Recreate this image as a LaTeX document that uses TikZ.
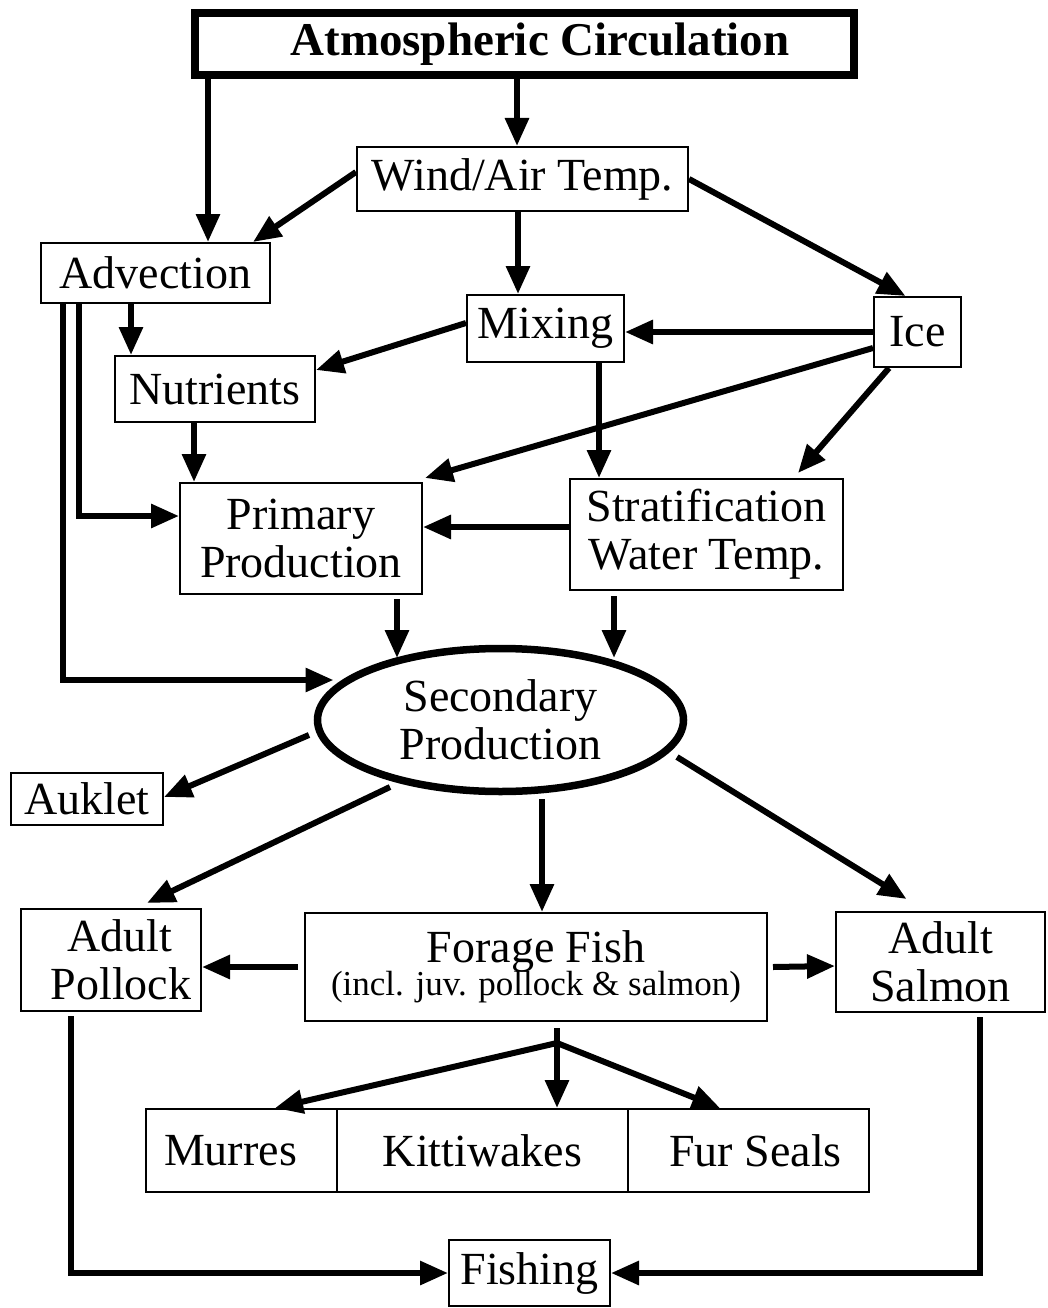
\documentclass[tikz,border=0pt]{standalone}
\usepackage{fontspec}
\setmainfont{Liberation Serif}
\usetikzlibrary{arrows.meta,shapes.geometric,calc}
\begin{document}
\begin{tikzpicture}[x=1pt,y=-1pt,
  box/.style={draw,line width=2pt,rectangle,inner sep=0pt,font=\fontsize{46}{48}\selectfont,align=center},
  arr/.style={line width=6pt,-{Triangle[length=28pt,width=23pt]}},
]
\useasboundingbox (0,0) rectangle (1048,1308);
% nodes
\node[box,minimum width=659pt,minimum height=62pt,line width=8pt,font=\fontsize{47}{50}\selectfont\bfseries] (atm) at (524.5,44) {\hspace*{31pt}Atmospheric Circulation};
\node[box,minimum width=331pt,minimum height=64pt] (wind) at (522.5,179) {Wind/Air Temp.};
\node[box,minimum width=229pt,minimum height=60pt] (adv) at (155.5,273) {Advection};
\node[box,minimum width=200pt,minimum height=66pt] (nut) at (215,389) {Nutrients};
\node[box,minimum width=242pt,minimum height=111pt] (prim) at (301,538.5) {Primary\\Production};
\node[box,minimum width=157pt,minimum height=67pt] (mix) at (545.5,328.5) {Mixing};
\node[box,minimum width=87pt,minimum height=70pt] (ice) at (917.5,332) {Ice};
\node[box,minimum width=273pt,minimum height=111pt] (strat) at (706.5,534.5) {Stratification\\Water Temp.};
\node[ellipse,draw,line width=7.5pt,minimum width=366pt,minimum height=143pt,inner sep=0pt,font=\fontsize{46}{48}\selectfont,align=center] (sec) at (500.5,720) {Secondary\\Production};
\node[box,minimum width=152pt,minimum height=52pt] (auk) at (87,799) {Auklet};
\node[box,minimum width=180pt,minimum height=102pt] (pol) at (111,960) {\hspace*{18pt}Adult\\\hspace*{20pt}Pollock};
\node[box,minimum width=462pt,minimum height=108pt] (fish) at (536,967) {Forage Fish\\[-15pt]{\fontsize{35}{36}\selectfont (incl. juv. pollock \& salmon)}};
\node[box,minimum width=209pt,minimum height=100pt] (sal) at (940.5,962) {Adult\\Salmon};
\node[box,minimum width=191pt,minimum height=83pt] (mur) at (241.5,1150.5) {\hspace*{-22pt}Murres};
\node[box,minimum width=291pt,minimum height=83pt] (kit) at (482.5,1150.5) {Kittiwakes};
\node[box,minimum width=241pt,minimum height=83pt] (fur) at (748.5,1150.5) {\hspace*{14pt}Fur Seals};
\node[box,minimum width=161pt,minimum height=66pt] (fsh) at (529.5,1273) {Fishing};
\coordinate (br) at ([xshift=21pt,yshift=-21pt]fish.south);
% connectors
\draw[arr] ([xshift=-7.5pt]atm.south) -- ([xshift=-7.5pt]atm.south |- wind.north);
\draw[arr] ([xshift=17pt]atm.south west) -- ([xshift=17pt]atm.south west |- adv.north);
\draw[arr] ([yshift=7pt]wind.west) -- ([xshift=-18pt]adv.north east);
\draw[arr] ([xshift=-4.5pt]wind.south) -- ([xshift=-4.5pt]wind.south |- mix.north);
\draw[arr] (wind.east) -- ([xshift=-12pt]ice.north);
\draw[arr] (ice.west) -- (ice.west -| mix.east);
\draw[arr] ([yshift=5.5pt]mix.west) -- ([yshift=19pt]nut.east);
\draw[arr] ([xshift=-24.5pt]adv.south) -- ([xshift=-24.5pt]adv.south |- nut.north);
\draw[arr] ([xshift=39pt]adv.south west) |- ([yshift=22.5pt]prim.west);
\draw[arr] ([xshift=23pt]adv.south west) |- ([xshift=-167pt,yshift=40pt]sec.center);
\draw[arr] ([xshift=-21pt]nut.south) -- ([xshift=-21pt]nut.south |- prim.north);
\draw[arr] ([yshift=-16pt]ice.west) -- ([xshift=2pt,yshift=4pt]prim.north east);
\draw[arr] ([xshift=-28.5pt]ice.south) -- ([xshift=91.5pt,yshift=5pt]strat.north);
\draw[arr] ([xshift=53.5pt]mix.south) -- ([xshift=53.5pt]mix.south |- strat.north);
\draw[arr] ([yshift=7.5pt]strat.west) -- ([yshift=7.5pt]strat.west -| prim.east);
\draw[arr] ([xshift=96pt,yshift=-4pt]prim.south) -- ([xshift=-103.5pt,yshift=62pt]sec.center);
\draw[arr] ([xshift=-92.5pt,yshift=-5pt]strat.south) -- ([xshift=113.5pt,yshift=62pt]sec.center);
\draw[arr] ([xshift=-191.5pt,yshift=-15pt]sec.center) -- ([yshift=2pt]auk.east);
\draw[arr] ([xshift=-110.5pt,yshift=-67pt]sec.center) -- ([xshift=36pt,yshift=5pt]pol.north);
\draw[arr] ([xshift=41.5pt,yshift=-79pt]sec.center) -- ([xshift=41.5pt]sec.center |- fish.north);
\draw[arr] ([xshift=176.5pt,yshift=-37pt]sec.center) -- ([xshift=-34pt,yshift=12pt]sal.north);
\draw[arr,shorten <=6pt] (fish.west) -- (fish.west -| pol.east);
\draw[arr] ([xshift=5pt]fish.east) -- ([yshift=-4pt]sal.west);
\draw[line width=6pt] ([xshift=21pt,yshift=-6pt]fish.south) -- (br);
\draw[arr] (br) -- ([xshift=33.5pt]mur.north);
\draw[arr] (br) -- (br |- kit.north);
\draw[arr] (br) -- ([xshift=-28.5pt]fur.north);
\draw[arr] ([xshift=-40pt,yshift=-4pt]pol.south) |- (fsh.west);
\draw[arr] ([xshift=39pt,yshift=-4pt]sal.south) |- (fsh.east);
\end{tikzpicture}
\end{document}
